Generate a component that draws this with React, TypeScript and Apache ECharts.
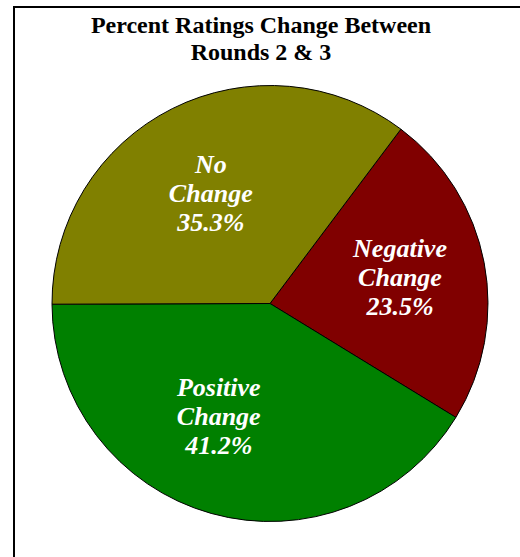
import React, { useEffect, useRef } from "react";
import * as echarts from "echarts";

const titleLines = ["Percent Ratings Change Between", "Rounds 2 & 3"];
const categories = ["Negative Change", "Positive Change", "No Change"];
const percents = [23.5, 41.2, 35.3];
const colors = ["#800000", "#008000", "#808000"];
const labelShifts = [
  [20, -5],
  [-21, 5],
  [-9, -10],
];

export default function App() {
  const ref = useRef<HTMLDivElement>(null);
  useEffect(() => {
    document.body.style.margin = "0";
    const chart = echarts.init(ref.current!, undefined, { renderer: "svg" });
    chart.setOption({
      animation: false,
      backgroundColor: "#ffffff",
      title: {
        text: titleLines.join("\n"),
        left: 256,
        textAlign: "center",
        top: 6,
        textStyle: {
          fontFamily: "Liberation Serif",
          fontWeight: "bold",
          fontSize: 24,
          lineHeight: 27,
          color: "#000",
        },
      },
      graphic: [
        {
          type: "rect",
          shape: { x: 14, y: 7, width: 700, height: 700 },
          style: { fill: "none", stroke: "#000", lineWidth: 2 },
          silent: true,
        },
      ],
      series: [
        {
          type: "pie",
          center: [270, 303.5],
          radius: [0, 218],
          startAngle: 53.1,
          clockwise: true,
          data: categories.map((name, i) => ({
            name,
            value: percents[i],
            itemStyle: { color: colors[i] },
          })),
          itemStyle: { borderColor: "#000", borderWidth: 1 },
          label: {
            show: true,
            position: "inside",
            formatter: (p: any) => `${p.name.replace(" ", "\n")}\n${p.value.toFixed(1)}%`,
            color: "#fff",
            fontFamily: "Liberation Serif",
            fontWeight: "bold",
            fontStyle: "italic",
            fontSize: 26,
            lineHeight: 29,
            align: "center",
          },
          labelLayout: (params: any) => ({
            dx: labelShifts[params.dataIndex][0],
            dy: labelShifts[params.dataIndex][1],
          }),
          emphasis: { disabled: true },
        },
      ],
    });
    return () => chart.dispose();
  }, []);
  return <div ref={ref} style={{ position: "absolute", left: 0, top: 0, width: 520, height: 557 }} />;
}
